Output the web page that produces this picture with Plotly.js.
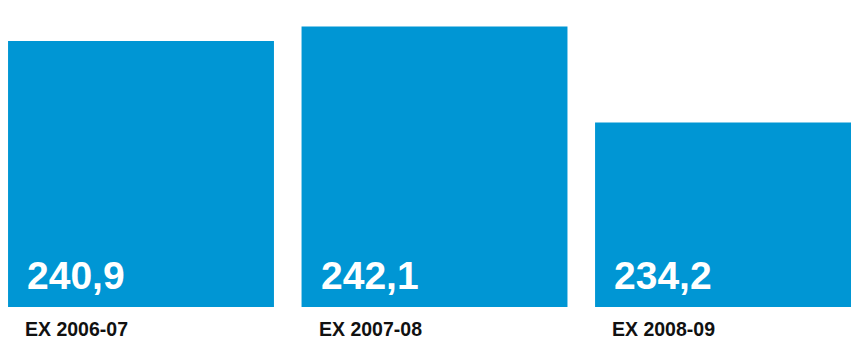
<!DOCTYPE html>
<html>
<head>
<meta charset="utf-8">
<script src="https://cdn.plot.ly/plotly-3.0.1.min.js"></script>
<style>html,body{margin:0;padding:0;background:#fff;}#chart{width:851px;height:339px;}</style>
</head>
<body>
<div id="chart"></div>
<script>
const categories = ['EX 2006-07', 'EX 2007-08', 'EX 2008-09'];
const values = [240.9, 242.1, 234.2];
const valueLabels = ['240,9', '242,1', '234,2'];

const barColor = '#0096D4';
const font = 'Liberation Sans, Arial, sans-serif';

const annotations = [];
categories.forEach((c, i) => {
  annotations.push({
    x: i, xref: 'x', y: 0, yref: 'paper',
    xanchor: 'left', yanchor: 'bottom', xshift: -116, yshift: 8,
    text: '<b>' + valueLabels[i] + '</b>', showarrow: false,
    font: {family: font, size: 39, color: '#ffffff'}
  });
  annotations.push({
    x: i, xref: 'x', y: 0, yref: 'paper',
    xanchor: 'left', yanchor: 'top', xshift: -118, yshift: -9,
    text: '<b>' + c + '</b>', showarrow: false,
    font: {family: font, size: 19.5, color: '#111111'}
  });
});

Plotly.newPlot('chart', [{
  type: 'bar',
  x: categories.map((c, i) => i),
  y: values,
  marker: {color: barColor},
  hoverinfo: 'none'
}], {
  width: 851, height: 339,
  margin: {l: 0, r: 0, t: 11, b: 32, pad: 0},
  paper_bgcolor: '#ffffff', plot_bgcolor: '#ffffff',
  bargap: 0.094,
  showlegend: false,
  xaxis: {range: [-0.4804, 2.419], showgrid: false, zeroline: false, showticklabels: false, ticks: '', showline: false},
  yaxis: {range: [219.05, 243.37], showgrid: false, zeroline: false, showticklabels: false, ticks: '', showline: false},
  annotations: annotations
}, {staticPlot: true, displayModeBar: false});
</script>
</body>
</html>
